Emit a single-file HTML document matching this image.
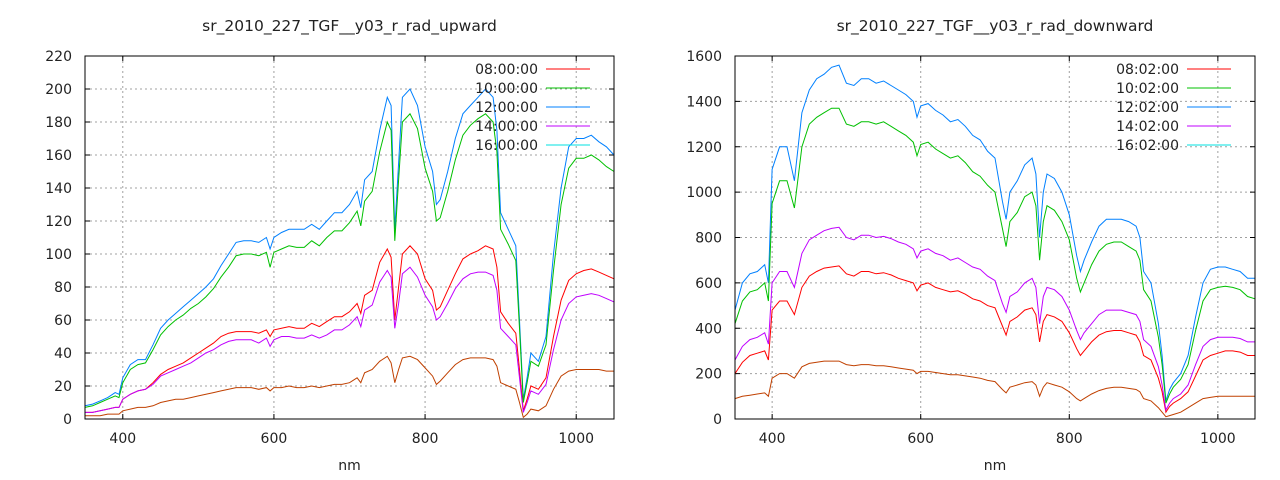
<!DOCTYPE html>
<html><head><meta charset="utf-8"><style>
body{margin:0;background:#fff;}
svg{display:block;font-family:"DejaVu Sans","Liberation Sans",sans-serif;}
</style></head><body>
<svg id="chart" width="1280" height="480" xmlns="http://www.w3.org/2000/svg"></svg>
<script>
const wavelengths=[350,360,370,380,390,395,400,410,420,430,440,450,460,470,480,490,500,510,520,530,540,550,560,570,580,590,595,600,610,620,630,640,650,660,670,680,690,700,710,715,720,730,740,750,755,760,765,770,780,790,800,810,815,820,830,840,850,860,870,880,890,895,900,910,920,925,930,935,940,950,960,970,980,990,1000,1010,1020,1030,1040,1050];
const upLabels=["08:00:00","10:00:00","12:00:00","14:00:00","16:00:00"];
const downLabels=["08:02:00","10:02:00","12:02:00","14:02:00","16:02:00"];
const up08=[4,4,5,6,7,7,12,15,17,18,22,27,30,32,34,37,40,43,46,50,52,53,53,53,52,54,50,54,55,56,55,55,58,56,59,62,62,65,70,64,75,78,95,103,98,60,80,100,105,100,85,78,66,68,78,88,97,100,102,105,103,92,65,58,52,30,5,12,20,18,25,50,72,84,88,90,91,89,87,85];
const up10=[7,8,10,12,14,13,22,30,33,34,42,51,56,60,63,67,70,74,79,86,92,99,100,100,99,101,92,101,103,105,104,104,108,105,110,114,114,119,126,117,132,138,162,180,175,108,145,180,185,176,152,138,120,122,138,157,172,178,182,185,180,162,115,106,96,55,10,22,35,32,45,90,130,152,158,158,160,157,153,150];
const up12=[8,9,11,13,16,15,25,33,36,36,45,55,60,64,68,72,76,80,85,93,100,107,108,108,107,110,103,110,113,115,115,115,118,115,120,125,125,130,138,128,145,150,175,195,190,115,155,195,200,190,165,150,130,133,150,170,185,190,195,200,195,175,125,115,105,60,12,25,40,35,50,100,140,165,170,170,172,168,165,160];
const up14=[4,4,5,6,7,7,12,15,17,18,21,26,28,30,32,34,37,40,42,45,47,48,48,48,46,49,44,48,50,50,49,49,51,49,51,54,54,57,62,56,66,69,83,90,86,55,70,88,92,86,75,68,60,62,70,79,85,88,89,89,87,78,55,50,45,25,4,10,17,15,21,42,60,70,74,75,76,75,73,71];
const up16=[2,2,2,3,3,3,5,6,7,7,8,10,11,12,12,13,14,15,16,17,18,19,19,19,18,19,17,19,19,20,19,19,20,19,20,21,21,22,25,22,28,30,35,38,34,22,30,37,38,36,31,26,21,23,28,33,36,37,37,37,36,32,22,20,18,10,1,3,6,5,8,18,26,29,30,30,30,30,29,29];
const dn08=[200,250,280,290,300,260,480,520,520,460,580,630,650,665,670,675,640,630,650,650,640,645,635,620,610,600,565,590,600,580,570,560,565,550,530,520,500,490,410,370,430,450,480,490,460,340,430,460,450,430,380,310,280,300,340,370,385,390,390,380,370,340,280,260,180,120,30,55,70,90,120,190,260,280,290,300,300,295,280,280];
const dn10=[420,520,560,570,600,520,950,1050,1050,930,1200,1300,1330,1350,1370,1370,1300,1290,1310,1310,1300,1310,1290,1270,1250,1220,1160,1210,1220,1190,1170,1150,1160,1130,1090,1070,1030,1000,840,760,870,910,980,1000,940,700,870,940,920,870,790,620,560,600,680,740,770,780,780,760,740,700,570,520,360,240,70,110,140,175,240,390,520,570,580,585,580,570,540,530];
const dn12=[480,600,640,650,680,600,1100,1200,1200,1050,1350,1450,1500,1520,1550,1560,1480,1470,1500,1500,1480,1490,1470,1450,1430,1400,1330,1380,1390,1360,1340,1310,1320,1290,1250,1230,1180,1150,960,880,1000,1050,1120,1150,1080,800,1000,1080,1060,1000,900,720,650,700,780,850,880,880,880,870,850,800,650,600,420,280,80,130,160,200,280,450,600,660,670,670,660,650,620,620];
const dn14=[260,320,350,360,380,330,600,650,650,580,730,790,810,830,840,845,800,790,810,810,800,805,795,780,770,750,710,740,750,730,720,700,710,690,670,660,630,610,510,470,540,560,600,620,580,420,540,580,570,540,480,390,350,380,420,460,480,480,480,470,460,430,350,320,230,150,40,70,90,110,150,240,320,350,360,360,360,355,340,340];
const dn16=[90,100,105,110,115,100,180,200,200,180,230,245,250,255,255,255,240,235,240,240,235,235,230,225,220,215,200,210,210,205,200,195,195,190,185,180,170,165,130,115,140,150,160,165,150,100,140,160,150,140,120,90,80,90,110,125,135,140,140,135,130,120,90,80,50,30,10,15,20,30,50,70,90,95,100,100,100,100,100,100];
const xTicks=[400,600,800,1000];
const upTicks=[0,20,40,60,80,100,120,140,160,180,200,220];
const dnTicks=[0,200,400,600,800,1000,1200,1400,1600];

const NS="http://www.w3.org/2000/svg";
const svg=document.getElementById('chart');
function mk(tag,attrs,parent,text){const e=document.createElementNS(NS,tag);for(const k in attrs)e.setAttribute(k,attrs[k]);if(text!==undefined)e.textContent=text;(parent||svg).appendChild(e);return e;}
const colors=["#ff0000","#00c000","#0080ff","#c000ff","#00e0e0"];
const drawColors=["#ff0000","#00c000","#0080ff","#c000ff","#c04000"];

function panel(name,L,R,T,B,ymax,yTicks,series,labels,title,drawOrder){
  const g=mk('g',{});
  
  
  const xs=v=>L+(v-350)/(1050-350)*(R-L);
  const ys=v=>B-v/ymax*(B-T);
  const t=mk('text',{x:(L+R)/2,y:31,'text-anchor':'middle','font-size':15.5,fill:'#222'},g,title);
  
  yTicks.forEach(v=>{const y=ys(v);
    if(v>0&&v<ymax){const gl=mk('line',{x1:L,x2:R,y1:y,y2:y,stroke:'#a0a0a0','stroke-dasharray':'2,3','stroke-width':1},g);}
    mk('line',{x1:L,x2:L+5,y1:y,y2:y,stroke:'#000'},g);mk('line',{x1:R,x2:R-5,y1:y,y2:y,stroke:'#000'},g);
    const tl=mk('text',{x:L-13,y:y+5,'text-anchor':'end','font-size':14,fill:'#222'},g,String(v));
    });
  xTicks.forEach(v=>{const x=xs(v);
    const gl=mk('line',{x1:x,x2:x,y1:T,y2:B,stroke:'#a0a0a0','stroke-dasharray':'2,3','stroke-width':1},g);
    mk('line',{x1:x,x2:x,y1:B,y2:B-5,stroke:'#000'},g);mk('line',{x1:x,x2:x,y1:T,y2:T+5,stroke:'#000'},g);
    const tl=mk('text',{x:x,y:B+24,'text-anchor':'middle','font-size':14,fill:'#222'},g,String(v));
    });
  const xt=mk('text',{x:(L+R)/2,y:470,'text-anchor':'middle','font-size':14,fill:'#222'},g,'nm');
  
  drawOrder.forEach(i=>{
    const d=series[i].map((v,j)=>(j?'L':'M')+xs(wavelengths[j]).toFixed(1)+','+ys(v).toFixed(1)).join('');
    const p=mk('path',{d:d,fill:'none',stroke:drawColors[i],'stroke-width':1},g);
    
    
  });
  const fr=mk('rect',{x:L,y:T,width:R-L,height:B-T,fill:'none',stroke:'#000','stroke-width':1},g);
  
  labels.forEach((lab,i)=>{const y=69+i*19;
    const lt=mk('text',{x:R-76,y:y+5,'text-anchor':'end','font-size':14,fill:'#222'},g,lab);
    
    const ll=mk('line',{x1:R-68,x2:R-24,y1:y,y2:y,stroke:colors[i],'stroke-width':1},g);
    });
}
panel('upward-panel',85,614,56,419,220,upTicks,[up08,up10,up12,up14,up16],upLabels,'sr_2010_227_TGF__y03_r_rad_upward',[4,0,3,2,1]);
panel('downward-panel',735,1255,56,419,1600,dnTicks,[dn08,dn10,dn12,dn14,dn16],downLabels,'sr_2010_227_TGF__y03_r_rad_downward',[4,0,3,2,1]);
</script>
</body></html>
